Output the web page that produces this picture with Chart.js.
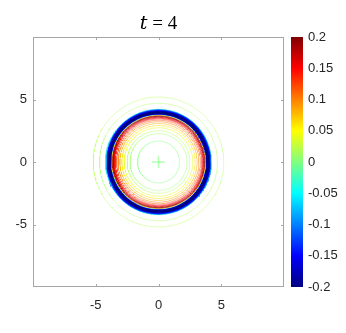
<!DOCTYPE html>
<html>
<head>
<meta charset="utf-8">
<script src="https://cdn.jsdelivr.net/npm/chart.js@4.4.0/dist/chart.umd.min.js"></script>
<style>
  body { margin: 0; background: #fff; }
  canvas { display: block; }
</style>
</head>
<body>
<canvas id="myChart" width="346" height="333"></canvas>
<script>
// radial profile of the field at t = 4, one contour line per sample
var profileR = [5.2, 4.7, 4.22, 4.18, 4.14, 4.1, 4.06, 4.02, 3.98, 3.94, 3.9, 3.86, 3.82, 3.79, 3.76, 3.73, 3.7, 3.66, 3.62, 3.57, 3.51, 3.44, 3.34, 3.22, 3.08, 2.92, 2.74, 2.5, 2.27, 1.67];
var profileV = [0.02, 0.015, -0.04, -0.09, -0.15, -0.2, -0.2, -0.2, -0.2, -0.2, -0.2, -0.15, -0.09, -0.03, 0.04, 0.11, 0.2, 0.19, 0.18, 0.16, 0.15, 0.14, 0.12, 0.1, 0.08, 0.06, 0.04, 0.02, 0.01, 0.0];
var crossArm = [0.5];
var crossValue = [0.0];

var axisTicks = [-5, 0, 5];
var axisMin = -10, axisMax = 10;
var cbTicks = [-0.2, -0.15, -0.1, -0.05, 0, 0.05, 0.1, 0.15, 0.2];
var cbMin = -0.2, cbMax = 0.2;

function clamp(v) { return Math.max(0, Math.min(1, v)); }
function jet(t, a) {
  var r = clamp(1.5 - Math.abs(4 * t - 3)),
      g = clamp(1.5 - Math.abs(4 * t - 2)),
      b = clamp(1.5 - Math.abs(4 * t - 1));
  return 'rgba(' + Math.round(r * 255) + ',' + Math.round(g * 255) + ',' + Math.round(b * 255) + ',' + (a === undefined ? 1 : a) + ')';
}
function levelColor(v, a) { return jet((v - cbMin) / (cbMax - cbMin), a); }

var datasets = [];
for (let i = 0; i < profileR.length; i++) {
  var pts = [];
  for (let k = 0; k <= 240; k++) {
    var th = k / 240 * 2 * Math.PI;
    pts.push({x: profileR[i] * Math.cos(th), y: profileR[i] * Math.sin(th)});
  }
  var v = profileV[i];
  var strong = v <= -0.1;
  datasets.push({
    data: pts,
    showLine: true,
    pointRadius: 0,
    borderColor: levelColor(v, strong ? 1 : (Math.abs(v) < 0.03 ? 0.4 : (v >= 0.15 ? 0.65 : 0.5))),
    borderWidth: strong ? 1.8 : 1,
    tension: 0
  });
}
var c = crossArm[0];
datasets.push({data: [{x: -c, y: 0}, {x: c, y: 0}], showLine: true, pointRadius: 0, borderColor: levelColor(crossValue[0], 0.6), borderWidth: 1.5});
datasets.push({data: [{x: 0, y: -c}, {x: 0, y: c}], showLine: true, pointRadius: 0, borderColor: levelColor(crossValue[0], 0.6), borderWidth: 1.5});

var boxPlugin = {
  id: 'box',
  afterDatasetsDraw: function(chart) {
    var ctx = chart.ctx, a = chart.chartArea;
    var xs = chart.scales.x, ys = chart.scales.y, cb = chart.scales.cb;
    ctx.save();
    ctx.strokeStyle = '#a6a6a6';
    ctx.lineWidth = 1;
    ctx.strokeRect(Math.round(a.left) + 0.5, Math.round(a.top) + 0.5, Math.round(a.right - a.left) - 1, Math.round(a.bottom - a.top) - 1);
    ctx.beginPath();
    axisTicks.forEach(function(t) {
      var px = Math.round(xs.getPixelForValue(t)) + 0.5;
      ctx.moveTo(px, a.bottom); ctx.lineTo(px, a.bottom - 3);
      ctx.moveTo(px, a.top); ctx.lineTo(px, a.top + 3);
      var py = Math.round(ys.getPixelForValue(t)) + 0.5;
      ctx.moveTo(a.left, py); ctx.lineTo(a.left + 3, py);
      ctx.moveTo(a.right, py); ctx.lineTo(a.right - 3, py);
    });
    ctx.stroke();
    // colorbar
    var y0 = cb.getPixelForValue(cbMin), y1 = cb.getPixelForValue(cbMax);
    var grad = ctx.createLinearGradient(0, y0, 0, y1);
    for (let s = 0; s <= 16; s++) grad.addColorStop(s / 16, jet(s / 16));
    ctx.fillStyle = grad;
    ctx.fillRect(cb.left + 7, y1, 12, y0 - y1);
    ctx.restore();
    // title
    ctx.save();
    ctx.fillStyle = '#000';
    ctx.textBaseline = 'alphabetic';
    var cx = (a.left + a.right) / 2;
    ctx.font = 'italic 19px "DejaVu Serif", "Liberation Serif", serif';
    var w1 = ctx.measureText('t').width;
    ctx.font = '19px "Liberation Serif", "DejaVu Serif", serif';
    var rest = ' = 4';
    var w2 = ctx.measureText(rest).width;
    var x0 = cx - (w1 + w2) / 2;
    ctx.font = 'italic 19px "DejaVu Serif", "Liberation Serif", serif';
    ctx.fillText('t', x0, 29);
    ctx.font = '19px "Liberation Serif", "DejaVu Serif", serif';
    ctx.fillText(rest, x0 + w1, 29);
    ctx.restore();
  }
};

var tickFont = {family: '"Liberation Sans", Arial, sans-serif', size: 13};

var myChart = new Chart(document.getElementById('myChart').getContext('2d'), {
  type: 'scatter',
  data: {datasets: datasets},
  options: {
    responsive: false,
    animation: false,
    layout: {padding: {top: 37, left: 0, right: 0, bottom: 0}},
    plugins: {legend: {display: false}, tooltip: {enabled: false}, title: {display: false}},
    scales: {
      x: {
        type: 'linear', min: axisMin, max: axisMax, position: 'bottom',
        grid: {display: false, drawTicks: false}, border: {display: false},
        ticks: {font: tickFont, color: '#262626', padding: 11, maxRotation: 0},
        afterBuildTicks: function(s) { s.ticks = axisTicks.map(function(v) { return {value: v}; }); },
        afterFit: function(s) { s.height = 46; }
      },
      y: {
        type: 'linear', min: axisMin, max: axisMax, position: 'left',
        grid: {display: false, drawTicks: false}, border: {display: false},
        ticks: {font: tickFont, color: '#262626', padding: 6},
        afterBuildTicks: function(s) { s.ticks = axisTicks.map(function(v) { return {value: v}; }); },
        afterFit: function(s) { s.width = 33; }
      },
      cb: {
        type: 'linear', min: cbMin, max: cbMax, position: 'right',
        grid: {display: false, drawTicks: false}, border: {display: false},
        ticks: {font: tickFont, color: '#262626', padding: 24,
          callback: function(v) { return String(Math.round(v * 100) / 100); }},
        afterBuildTicks: function(s) { s.ticks = cbTicks.map(function(v) { return {value: v}; }); },
        afterFit: function(s) { s.width = 62; }
      }
    }
  },
  plugins: [boxPlugin]
});
</script>
</body>
</html>
